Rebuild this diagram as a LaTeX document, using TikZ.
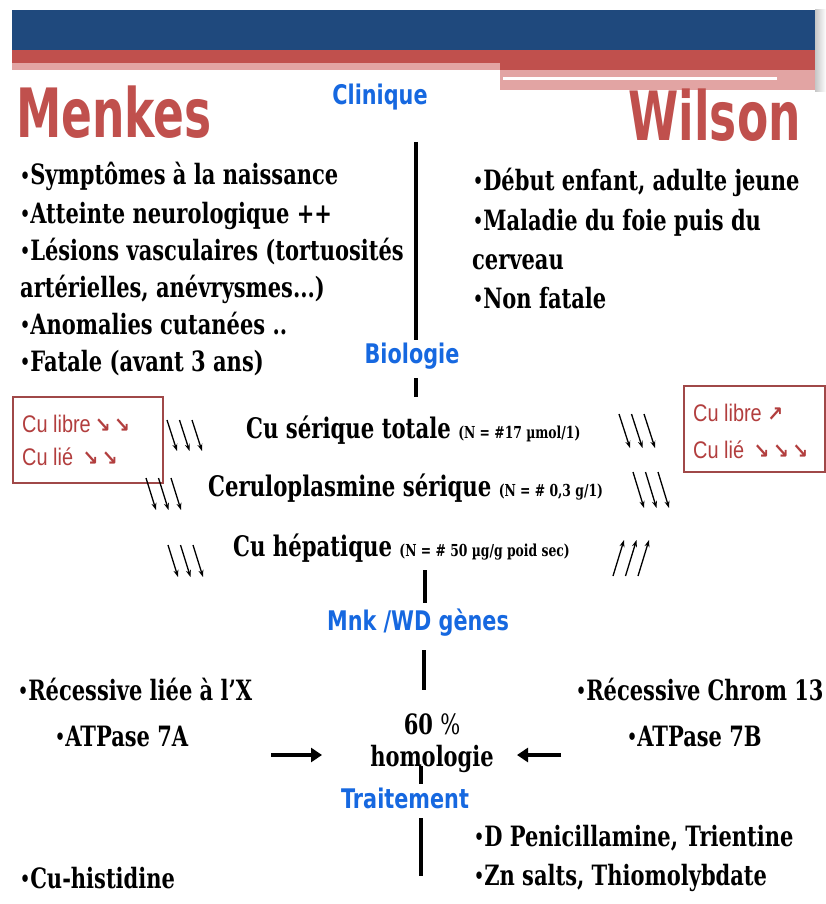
\documentclass[tikz,border=0pt]{standalone}
\usepackage{fontspec}
\usetikzlibrary{arrows.meta}
\newfontfamily\serifb[FakeStretch=0.75]{DejaVu Serif}
\newfontfamily\ttlf[FakeStretch=0.67]{DejaVu Sans}
\newfontfamily\labf[FakeStretch=0.77]{DejaVu Sans}
\newfontfamily\boxf[FakeStretch=0.83]{Liberation Sans}
\newfontfamily\arrf[FakeStretch=0.9]{DejaVu Sans}
\definecolor{navy}{RGB}{31,73,125}
\definecolor{bandred}{RGB}{192,80,77}
\definecolor{bandpink}{RGB}{226,164,163}
\definecolor{ttlred}{RGB}{192,80,77}
\definecolor{labblue}{RGB}{22,104,224}
\definecolor{boxred}{RGB}{160,72,72}
\definecolor{boxtxt}{RGB}{178,62,62}
\newcommand{\smallpart}[1]{{\fontsize{16.5}{18}\selectfont #1}}
\newcommand{\arr}[1]{{\arrf\bfseries\fontsize{21}{23}\selectfont #1}}
\newcommand{\bu}{{\fontsize{21}{21}\selectfont\raisebox{1.5pt}{•}}}
\tikzset{
  bul/.style={anchor=base west, inner sep=0pt, font=\serifb\bfseries\fontsize{28}{30}\selectfont},
  bio/.style={anchor=base west, inner sep=0pt, font=\serifb\bfseries\fontsize{28.3}{31}\selectfont},
  ctr/.style={anchor=base, inner sep=0pt, font=\serifb\bfseries\fontsize{28}{30}\selectfont},
  blab/.style={anchor=base, inner sep=0pt, text=labblue, font=\labf\bfseries\fontsize{27}{29}\selectfont},
  ttl/.style={inner sep=0pt, text=ttlred, font=\ttlf\bfseries\fontsize{68}{70}\selectfont},
  boxtext/.style={anchor=base west, inner sep=0pt, text=boxtxt, font=\boxf\fontsize{24}{26}\selectfont},
  cubox/.style={draw=boxred, line width=2pt, inner sep=0pt, fill=white},
  vline/.style={line width=4pt},
  thin arrow/.style={line width=1.3pt, -{Stealth[length=7pt,width=5pt]}},
  big arrow/.style={line width=4.5pt, -{Triangle[length=11pt,width=14pt]}}
}
\begin{document}
\begin{tikzpicture}[x=1pt,y=-1pt]
\useasboundingbox (0,0) rectangle (826,904);
\fill[white] (0,0) rectangle (826,904);
% banner
\shade[left color=gray!45, right color=white] (815,10) rectangle (826,92);
\fill[navy] (12,10) rectangle (815,50);
\fill[bandred] (12,50) rectangle (815,63);
\fill[bandred] (500,63) rectangle (815,70);
\fill[bandpink] (12,63) rectangle (500,70);
\fill[bandpink] (500,70) rectangle (815,90);
\fill[white] (503,77) rectangle (777,80);
% titles
\node[ttl, anchor=base west] (mk) at (16,138) {Menkes};
\node[ttl, anchor=base east] (wl) at (801,141) {Wilson};
% blue section labels
\node[blab] (cl) at (380,105) {Clinique};
\node[blab] (bi) at (412,363) {Biologie};
\node[blab] (mn) at (418,630) {Mnk /WD gènes};
\node[blab] (tr) at (405,808) {Traitement};
% Menkes clinique
\node[bul] (m1) at (20,185) {\bu Symptômes à la naissance};
\node[bul] (m2) at (20,223) {\bu Atteinte neurologique ++};
\node[bul] (m3) at (20,260) {\bu Lésions vasculaires (tortuosités};
\node[bul] (m4) at (20,297) {artérielles, anévrysmes...)};
\node[bul] (m5) at (20,334) {\bu Anomalies cutanées ..};
\node[bul] (m6) at (20,371) {\bu Fatale (avant 3 ans)};
% Wilson clinique
\node[bul] (w1) at (473,190) {\bu Début enfant, adulte jeune};
\node[bul] (w2) at (473,230) {\bu Maladie du foie puis du};
\node[bul] (w3) at (472,269) {cerveau};
\node[bul] (w4) at (473,308) {\bu Non fatale};
% boxes
\node[cubox, minimum width=150pt, minimum height=86pt] (lbox) at (87.5,440) {};
\node[boxtext] (lb1) at (22,432) {Cu libre\,\arr{↘\,↘}};
\node[boxtext] (lb2) at (22,465) {Cu lié \,\arr{↘\,↘}};
\node[cubox, minimum width=141pt, minimum height=86pt] (rbox) at (754.5,429) {};
\node[boxtext] (rb1) at (693,421) {Cu libre \arr{↗}};
\node[boxtext] (rb2) at (693,458) {Cu lié \,\arr{↘\,↘\,↘}};
% biology lines
\node[bio] (b1) at (246,438) {Cu sérique totale \smallpart{(N = \#17 µmol/1)}};
\node[bio] (b2) at (208,496) {Ceruloplasmine sérique \smallpart{(N = \# 0,3 g/1)}};
\node[bio] (b3) at (233,556) {Cu hépatique \smallpart{(N = \# 50 µg/g poid sec)}};
% small arrows
\foreach \dx in {0,12.5,25}{
  \draw[thin arrow] (167+\dx,420) -- (177+\dx,451);
  \draw[thin arrow] (146+\dx,478) -- (156+\dx,510);
  \draw[thin arrow] (168+\dx,545) -- (178+\dx,577);
  \draw[thin arrow] (619+\dx,414) -- (630+\dx,448);
  \draw[thin arrow] (633+\dx,472) -- (644+\dx,508);
  \draw[thin arrow] (613+\dx,576) -- (624+\dx,540);
}
% genes
\node[bul] (r1) at (18,700) {\bu Récessive liée à l’X};
\node[bul] (r2) at (55,746) {\bu ATPase 7A};
\node[bul] (r3) at (576,700) {\bu Récessive Chrom 13};
\node[bul] (r4) at (627,746) {\bu ATPase 7B};
\node[ctr] (h1) at (432,734) {60 {\mdseries\%}};
\node[ctr] (h2) at (432,766) {homologie};
\coordinate (la1) at (271,755); \coordinate (la2) at (322,755);
\coordinate (ra1) at (561,755); \coordinate (ra2) at (517,755);
\draw[big arrow] (la1) -- (la2);
\draw[big arrow] (ra1) -- (ra2);
% treatment
\node[bul] (t1) at (474,846) {\bu D Penicillamine, Trientine};
\node[bul] (t2) at (474,885) {\bu Zn salts, Thiomolybdate};
\node[bul] (t3) at (20,888) {\bu Cu-histidine};
% vertical connectors
\coordinate (v1a) at (416,142); \coordinate (v1b) at (416,340);
\coordinate (v2a) at (416,378); \coordinate (v2b) at (416,397);
\coordinate (v3a) at (425,570); \coordinate (v3b) at (425,603);
\coordinate (v4a) at (424,650); \coordinate (v4b) at (424,690);
\coordinate (v5a) at (421,766); \coordinate (v5b) at (421,784);
\coordinate (v6a) at (421,818); \coordinate (v6b) at (421,876);
\draw[vline] (v1a) -- (v1b);
\draw[vline] (v2a) -- (v2b);
\draw[vline] (v3a) -- (v3b);
\draw[vline] (v4a) -- (v4b);
\draw[vline] (v5a) -- (v5b);
\draw[vline] (v6a) -- (v6b);
\end{tikzpicture}
\end{document}
